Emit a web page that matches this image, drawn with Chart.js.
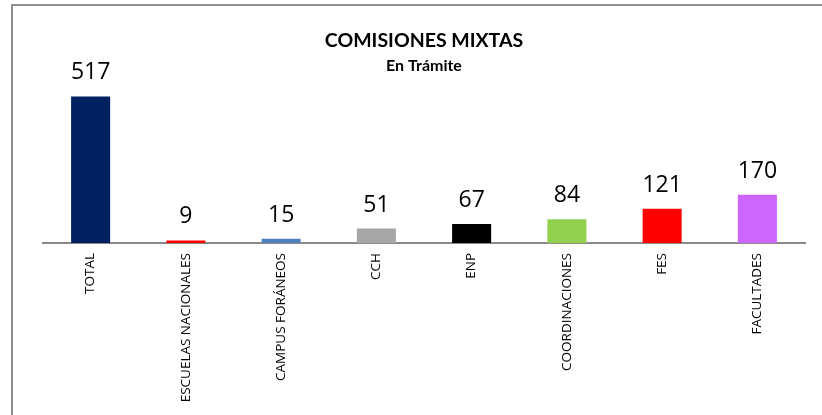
<!DOCTYPE html>
<html>
<head>
<meta charset="utf-8">
<script src="https://cdn.jsdelivr.net/npm/chart.js@4.4.1/dist/chart.umd.min.js"></script>
<style>
  html, body { margin: 0; padding: 0; background: #fff; }
  #wrap { position: relative; width: 822px; height: 415px; overflow: hidden; }
  #frame { position: absolute; left: 11px; top: 4px; width: 900px; height: 500px;
           border-top: 2px solid #8f8f8f; border-left: 2px solid #8f8f8f; box-sizing: border-box; }
  canvas { position: absolute; left: 0; top: 0; }
</style>
</head>
<body>
<div id="wrap">
  <div id="frame"></div>
  <canvas id="c" width="822" height="415"></canvas>
</div>
<script>
const titleText = 'COMISIONES MIXTAS';
const subtitleText = 'En Trámite';
const categories = ['TOTAL', 'ESCUELAS NACIONALES', 'CAMPUS FORÁNEOS', 'CCH', 'ENP', 'COORDINACIONES', 'FES', 'FACULTADES'];
const values = [517, 9, 15, 51, 67, 84, 121, 170];
const barColors = ['#002060', '#FF0000', '#4F81BD', '#A6A6A6', '#000000', '#92D050', '#FF0000', '#CC66FF'];

const valueLabels = {
  id: 'valueLabels',
  afterDatasetsDraw(chart) {
    const ctx = chart.ctx;
    const meta = chart.getDatasetMeta(0);
    ctx.save();
    ctx.font = '23px "Open Sans"';
    ctx.fillStyle = '#000';
    ctx.textAlign = 'center';
    ctx.textBaseline = 'alphabetic';
    meta.data.forEach((bar, i) => {
      ctx.fillText(String(values[i]), bar.x, bar.y - 17);
    });
    ctx.restore();
  }
};

new Chart(document.getElementById('c'), {
  type: 'bar',
  data: {
    labels: categories,
    datasets: [{
      data: values,
      backgroundColor: barColors,
      borderWidth: 0,
      barPercentage: 0.41,
      categoryPercentage: 1.0
    }]
  },
  options: {
    responsive: false,
    animation: false,
    layout: { padding: { left: 43, right: 17, top: 0, bottom: 0 } },
    plugins: {
      legend: { display: false },
      tooltip: { enabled: false },
      title: {
        display: true,
        text: titleText,
        color: '#000',
        font: { family: 'Lato', size: 19.5, weight: 'bold', lineHeight: 1.2 },
        padding: { top: 29, bottom: 4 }
      },
      subtitle: {
        display: true,
        text: subtitleText,
        color: '#000',
        font: { family: 'Lato', size: 16, weight: 'bold', lineHeight: 1.2 },
        padding: { top: 0, bottom: 5 }
      }
    },
    scales: {
      x: {
        grid: { display: false, drawTicks: false },
        border: { display: true, color: '#8a8a8a', width: 2 },
        ticks: {
          autoSkip: false,
          minRotation: 90,
          maxRotation: 90,
          padding: 10,
          color: '#000',
          font: { family: 'Open Sans', size: 13.5 }
        },
        afterFit(scale) { scale.height = 172; }
      },
      y: {
        display: false,
        min: 0,
        max: 573
      }
    }
  },
  plugins: [valueLabels]
});
</script>
</body>
</html>
